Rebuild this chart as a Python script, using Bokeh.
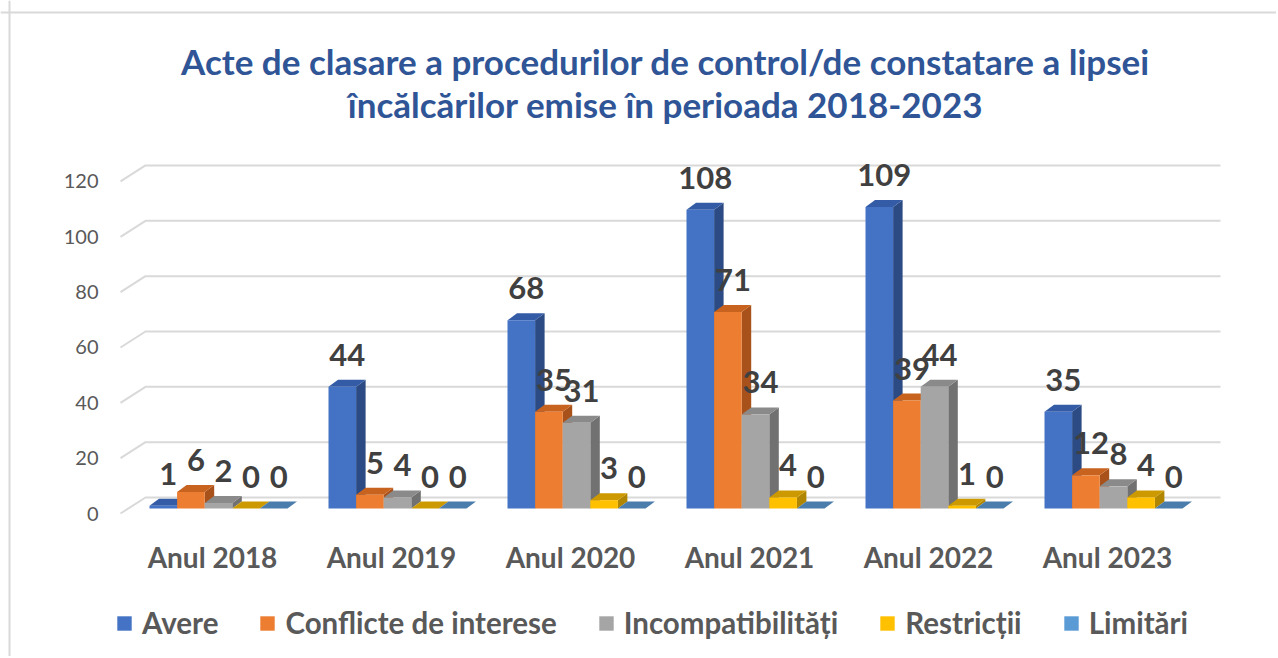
from bokeh.plotting import figure
from bokeh.models import Range1d, ColumnDataSource, Legend, LegendItem, Span
from bokeh.core.properties import value
from bokeh.embed import file_html
from bokeh.resources import INLINE

# ---------------- data ----------------
categories = ["Anul 2018", "Anul 2019", "Anul 2020", "Anul 2021", "Anul 2022", "Anul 2023"]
series_names = ["Avere", "Conflicte de interese", "Incompatibilități", "Restricții", "Limitări"]
avere = [1, 44, 68, 108, 109, 35]
conflicte = [6, 5, 35, 71, 39, 12]
incompatibilitati = [2, 4, 31, 34, 44, 8]
restrictii = [0, 0, 3, 4, 1, 4]
limitari = [0, 0, 0, 0, 0, 0]
y_ticks = [0, 20, 40, 60, 80, 100, 120]
title_lines = ["Acte de clasare a procedurilor de control/de constatare a lipsei",
               "încălcărilor emise în perioada 2018-2023"]

series_values = [avere, conflicte, incompatibilitati, restrictii, limitari]
front_colors = ["#4472C4", "#ED7D31", "#A5A5A5", "#FFC000", "#5B9BD5"]
top_colors = ["#345CA6", "#C8631F", "#8A8A8A", "#CC9A00", "#4A7DAB"]
side_colors = ["#2C4B84", "#A9511A", "#717171", "#B08500", "#3E6B96"]

# ---------------- layout (pixels) ----------------
W, H = 1276, 656
PX_X = 179.0          # pixels per category
PX_Y = 2.767          # pixels per value unit
X0 = 218.0            # canvas x of first category centre
Y0 = 513.0            # canvas y of value 0 (front plane)

def xc(px):
    return (px - X0) / PX_X

def yv(py):
    return (Y0 - py) / PX_Y

BAR_W = 27.6 / PX_X
BASE = 5 / PX_Y
DX = 9.5 / PX_X
DY = 7 / PX_Y
WALL_X0 = xc(120)
WALL_X1 = xc(1220)
WALL_DX = 25 / PX_X
WALL_DY = 16 / PX_Y

FONT_NAME = "Lato"
FONT = value(FONT_NAME)
TEXT_DARK = "#404040"
TEXT_GRAY = "#595959"

p = figure(width=W, height=H, x_range=Range1d(xc(0), xc(W)), y_range=Range1d(yv(H), yv(0)),
           output_backend="svg", toolbar_location=None, min_border=0,
           x_axis_location=None, y_axis_location=None)
p.grid.visible = False
p.outline_line_color = None
p.background_fill_color = "white"
p.border_fill_color = "white"

# chart border (left and top)
p.add_layout(Span(location=xc(9), dimension="height", line_color="#D9D9D9", line_width=2))
p.add_layout(Span(location=yv(12), dimension="width", line_color="#D9D9D9", line_width=2))

# back-wall gridlines with floor diagonal
p.multi_line(xs=[[WALL_X0, WALL_X0 + WALL_DX, WALL_X1] for t in y_ticks],
             ys=[[t, t + WALL_DY, t + WALL_DY] for t in y_ticks],
             line_color="#D9D9D9", line_width=2)

# y tick labels
p.text(x=[xc(98)] * len(y_ticks), y=y_ticks, text=[str(t) for t in y_ticks],
       text_font=FONT, text_font_size="20px", text_color=TEXT_GRAY,
       text_align="right", text_baseline="middle")

# bars (3D)
n = len(categories)
geo = []
for k, vals in enumerate(series_values):
    left = [i - 2.5 * BAR_W + k * BAR_W for i in range(n)]
    right = [l + BAR_W for l in left]
    top = [v + BASE for v in vals]
    geo.append((left, right, top))

for k, (left, right, top) in enumerate(geo):
    p.patches(xs=[[r, r + DX, r + DX, r] for r in right],
              ys=[[BASE, BASE + DY, t + DY, t] for t in top],
              fill_color=side_colors[k], line_color=None)
for k, (left, right, top) in enumerate(geo):
    p.patches(xs=[[l, r, r + DX, l + DX] for l, r in zip(left, right)],
              ys=[[t, t, t + DY, t + DY] for t in top],
              fill_color=top_colors[k], line_color=None)
front_renderers = []
for k, (left, right, top) in enumerate(geo):
    src = ColumnDataSource(dict(left=left, right=right, top=top, bottom=[BASE] * n))
    r = p.quad(left="left", right="right", top="top", bottom="bottom", source=src,
               fill_color=front_colors[k], line_color=None)
    front_renderers.append(r)

# data labels
for k, (left, right, top) in enumerate(geo):
    p.text(x=[l + BAR_W / 2 + 5 / PX_X for l in left], y=[t + 32 / PX_Y for t in top],
           text=[str(v) for v in series_values[k]],
           text_font=FONT, text_font_style="bold", text_font_size="31px", text_color=TEXT_DARK,
           text_align="center", text_baseline="middle")

# category labels
p.text(x=[i - 6 / PX_X for i in range(n)], y=[yv(556)] * n, text=categories,
       text_font=FONT, text_font_style="bold", text_font_size="28px", text_color=TEXT_GRAY,
       text_align="center", text_baseline="middle")

# title
p.text(x=[xc(665)] * 2, y=[yv(60), yv(103)], text=title_lines,
       text_font=FONT, text_font_style="bold", text_font_size="35px", text_color="#2F5597",
       text_align="center", text_baseline="middle")

legend = Legend(items=[LegendItem(label=s, renderers=[front_renderers[k]]) for k, s in enumerate(series_names)],
                orientation="horizontal", location=(115, 16),
                label_text_font=FONT_NAME, label_text_font_style="bold", label_text_font_size="29.5px",
                label_text_color=TEXT_GRAY, glyph_width=18, glyph_height=18, label_height=18,
                label_standoff=9, spacing=40, padding=0, margin=0,
                border_line_color=None, background_fill_alpha=0)
p.add_layout(legend)

open("out.html", "w").write(file_html(p, INLINE))
